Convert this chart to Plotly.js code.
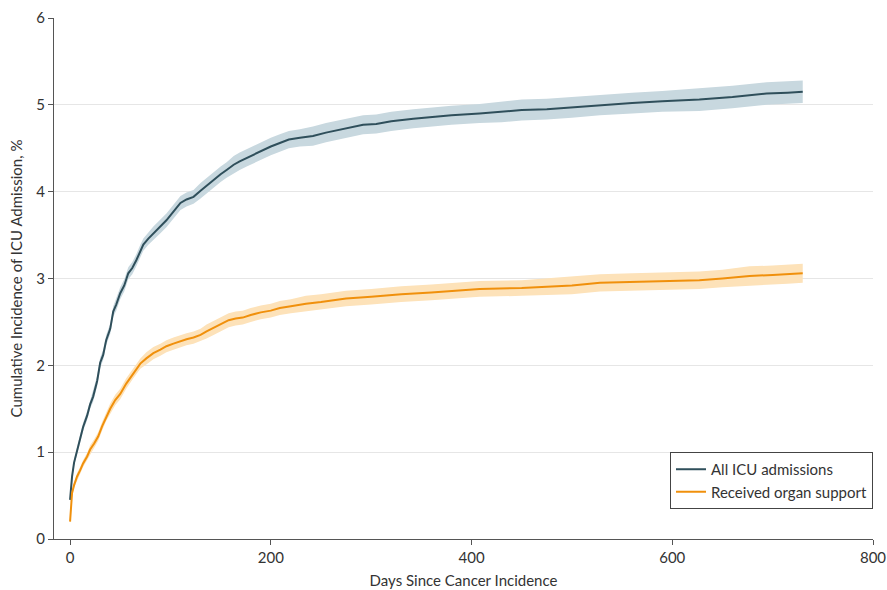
<!DOCTYPE html>
<html>
<head>
<meta charset="utf-8">
<script src="https://cdn.plot.ly/plotly-3.0.1.min.js"></script>
<style>html,body{margin:0;padding:0;background:#fff;}#chart{width:887px;height:590px;}</style>
</head>
<body>
<div id="chart"></div>
<script>
// All ICU admissions
var icuDays = [0,1,2,4,7,10,13,17,20,23,27,30,33,36,40,43,46,50,54,58,62,66,70,73,78,83,90,96,103,110,116,123,130,136,143,150,156,163,169,176,183,190,200,209,218,229,242,255,268,280,292,305,320,342,360,380,408,430,450,475,500,528,560,590,627,660,694,715,730];
var icuValues = [0.45,0.62,0.72,0.88,1.02,1.14,1.29,1.42,1.55,1.64,1.82,2.03,2.12,2.29,2.42,2.62,2.70,2.83,2.92,3.06,3.12,3.21,3.32,3.39,3.46,3.52,3.60,3.67,3.77,3.87,3.91,3.94,4.01,4.07,4.14,4.20,4.25,4.31,4.35,4.39,4.43,4.47,4.52,4.56,4.60,4.62,4.64,4.68,4.71,4.74,4.77,4.78,4.81,4.84,4.86,4.88,4.90,4.92,4.94,4.95,4.97,5.00,5.02,5.04,5.06,5.09,5.13,5.14,5.15];
var icuHalfCI = [0.03,0.04,0.04,0.04,0.05,0.05,0.05,0.05,0.05,0.06,0.06,0.06,0.06,0.06,0.06,0.06,0.07,0.07,0.07,0.07,0.07,0.07,0.07,0.07,0.07,0.08,0.08,0.08,0.08,0.08,0.08,0.08,0.09,0.09,0.09,0.09,0.09,0.10,0.10,0.10,0.10,0.10,0.10,0.10,0.10,0.10,0.11,0.11,0.11,0.11,0.11,0.11,0.11,0.11,0.11,0.11,0.11,0.12,0.12,0.12,0.12,0.12,0.12,0.12,0.13,0.13,0.13,0.13,0.13];

// Received organ support
var orgDays = [0,1,2,4,7,10,13,17,20,24,28,32,36,40,45,50,56,63,70,76,83,90,96,103,110,116,123,130,136,143,150,158,165,172,180,190,200,209,220,235,250,275,300,330,360,408,450,500,528,560,590,627,650,677,700,715,730];
var orgValues = [0.20,0.45,0.53,0.62,0.72,0.79,0.87,0.95,1.03,1.10,1.18,1.30,1.41,1.50,1.60,1.67,1.79,1.91,2.02,2.08,2.14,2.18,2.22,2.25,2.28,2.30,2.32,2.35,2.39,2.43,2.47,2.52,2.54,2.55,2.58,2.61,2.63,2.66,2.68,2.71,2.73,2.77,2.79,2.82,2.84,2.88,2.89,2.92,2.95,2.96,2.97,2.98,3.00,3.03,3.04,3.05,3.06];
var orgHalfCI = [0.02,0.03,0.03,0.03,0.04,0.04,0.04,0.04,0.05,0.05,0.05,0.05,0.05,0.06,0.06,0.06,0.06,0.06,0.06,0.07,0.07,0.07,0.07,0.07,0.07,0.07,0.07,0.07,0.08,0.08,0.08,0.08,0.08,0.08,0.08,0.08,0.08,0.08,0.08,0.09,0.09,0.09,0.09,0.09,0.09,0.09,0.09,0.10,0.10,0.10,0.10,0.10,0.10,0.11,0.11,0.11,0.11];

var seriesNames = ["All ICU admissions", "Received organ support"];
var xTicks = [0,200,400,600,800];
var yTicks = [0,1,2,3,4,5,6];

function add(a, b, s) { return a.map(function (v, i) { return v + s * b[i]; }); }

var darkLine = "#2f4f5b", darkBand = "#c8d8df";
var orgLine = "#f0900c", orgBand = "#fde2b9";

function band(days, vals, ci, color) {
  return [
    {x: days, y: add(vals, ci, -1), type: "scatter", mode: "lines", line: {width: 0, color: color}, showlegend: false, hoverinfo: "skip"},
    {x: days, y: add(vals, ci, 1), type: "scatter", mode: "lines", line: {width: 0, color: color}, fill: "tonexty", fillcolor: color, showlegend: false, hoverinfo: "skip"}
  ];
}

var data = []
  .concat(band(icuDays, icuValues, icuHalfCI, darkBand))
  .concat(band(orgDays, orgValues, orgHalfCI, orgBand))
  .concat([
    {x: icuDays, y: icuValues, type: "scatter", mode: "lines", name: seriesNames[0], line: {color: darkLine, width: 2}},
    {x: orgDays, y: orgValues, type: "scatter", mode: "lines", name: seriesNames[1], line: {color: orgLine, width: 2}}
  ]);

var fontFam = "Lato, sans-serif";
var txt = "#333";
var layout = {
  width: 887, height: 590,
  margin: {l: 54, r: 14, t: 18, b: 51},
  paper_bgcolor: "#fff", plot_bgcolor: "#fff",
  font: {family: fontFam, size: 15, color: txt},
  showlegend: true,
  legend: {x: 1, xanchor: "right", y: 0.167, yanchor: "top", traceorder: "normal", bordercolor: "#444", borderwidth: 1, bgcolor: "#fff", font: {size: 15, color: txt}, itemwidth: 30, tracegroupgap: 0},
  xaxis: {
    range: [-16, 800], tickvals: xTicks, ticktext: xTicks.map(String),
    showline: true, linecolor: "#555", linewidth: 1, ticks: "outside", ticklen: 5, tickcolor: "#555",
    showgrid: false, zeroline: false,
    title: {text: "Days Since Cancer Incidence", font: {size: 15, color: txt}, standoff: 10},
    tickfont: {size: 15, color: txt}
  },
  yaxis: {
    range: [0, 6], tickvals: yTicks, ticktext: yTicks.map(String),
    showline: true, linecolor: "#555", linewidth: 1, ticks: "outside", ticklen: 5, tickcolor: "#555",
    showgrid: true, gridcolor: "#e6e6e6", gridwidth: 1, zeroline: false,
    title: {text: "Cumulative Incidence of ICU Admission, %", font: {size: 15, color: txt}, standoff: 10},
    tickfont: {size: 15, color: txt}
  }
};

Plotly.newPlot("chart", data, layout, {displayModeBar: false, staticPlot: true});
</script>
</body>
</html>
